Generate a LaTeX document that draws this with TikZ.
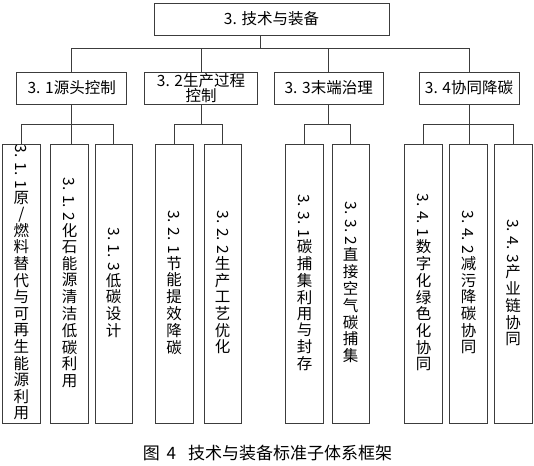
\documentclass[tikz,border=0pt]{standalone}
\usepackage{fontspec}
\setmainfont{Noto Sans CJK SC}
\usepackage{graphicx}
\usepackage{xcolor}
\definecolor{framegray}{RGB}{60, 60, 60}

\makeatletter
\newcommand\vchar[1]{\hbox to 16pt{\hss\vrule width0pt height12.4pt depth3.8pt\relax#1\hss}}
\newcommand\vtitle[2]{\vbox{\offinterlineskip\hbox to 16pt{\hss\rotatebox{-90}{#1}\hss}\kern2pt\vtitle@#2\relax}}
\def\vtitle@#1{\ifx\relax#1\else\vchar{#1}\expandafter\vtitle@\fi}
\makeatother

\begin{document}
\begin{tikzpicture}[x=1pt, y=1pt, font=\fontsize{15.5}{15.5}\selectfont]
    \tikzstyle{topbox} = [rectangle, minimum width=235pt, minimum height=32pt, text centered, draw=framegray, line width=0.8pt]
    \tikzstyle{secbox} = [rectangle, minimum height=32pt, inner sep=1pt, text centered, draw=framegray, line width=0.8pt]
    \tikzstyle{leaf} = [rectangle, minimum width=37.5pt, minimum height=279.3pt, inner sep=0pt, text centered, draw=framegray, line width=0.8pt]
    \tikzstyle{line} = [draw=framegray, line width=0.8pt]

    \path [use as bounding box, fill=white] (0,0) rectangle (534,-465);

    \node (top) [topbox] at (271.5,-19) {3. 技术与装备};

    \node (s1) [secbox, minimum width=110pt] at (71.7,-88) {3. 1源头控制};
    \node (s2) [secbox, minimum width=113pt, align=center] at (201,-88) {3. 2生产过程\\控制};
    \node (s3) [secbox, minimum width=109pt] at (328.7,-88) {3. 3末端治理};
    \node (s4) [secbox, minimum width=100pt] at (469,-88) {3. 4协同降碳};

    \node (l11) [leaf] at (21.3,-283.7) {\vtitle{3. 1. 1}{原/燃料替代与可再生能源利用}};
    \node (l12) [leaf] at (69.5,-283.7) {\vtitle{3. 1. 2}{化石能源清洁低碳利用}};
    \node (l13) [leaf] at (113.7,-283.7) {\vtitle{3. 1. 3}{低碳设计}};
    \node (l21) [leaf] at (174.2,-283.7) {\vtitle{3. 2. 1}{节能提效降碳}};
    \node (l22) [leaf] at (222.7,-283.7) {\vtitle{3. 2. 2}{生产工艺优化}};
    \node (l31) [leaf] at (304.5,-283.7) {\vtitle{3. 3. 1}{碳捕集利用与封存}};
    \node (l32) [leaf] at (350.7,-283.7) {\vtitle{3. 3. 2}{直接空气碳捕集}};
    \node (l41) [leaf] at (423.5,-283.7) {\vtitle{3. 4. 1}{数字化绿色化协同}};
    \node (l42) [leaf] at (468.5,-283.7) {\vtitle{3. 4. 2}{减污降碳协同}};
    \node (l43) [leaf] at (513.2,-283.7) {\vtitle{3. 4. 3}{产业链协同}};

    \node (cap) at (267.5,-453) {\fontsize{17}{17}\selectfont 图\hspace{0.4em}4\hspace{0.7em}技术与装备标准子体系框架};

    \coordinate (bus) at (260,-48.5);
    \draw [line] (top.south -| bus) -- (bus);
    \draw [line] (s1.north) |- (bus) -| (s4.north);
    \draw [line] (bus -| s2.north) -- (s2.north);
    \draw [line] (bus -| s3.north) -- (s3.north);

    \draw [line] (s1.south) -- ++(0,-20) coordinate (b1);
    \draw [line] (l11.north) |- (b1) -| (l13.north);
    \draw [line] (b1) -- (b1 |- l12.north);

    \draw [line] (s2.south) -- ++(0,-20) coordinate (b2);
    \draw [line] (l21.north) |- (b2) -| (l22.north);

    \draw [line] (s3.south) -- ++(0,-20) coordinate (b3);
    \draw [line] (l31.north) |- (b3) -| (l32.north);

    \draw [line] (s4.south) -- ++(0,-20) coordinate (b4);
    \draw [line] (l41.north) |- (b4) -| (l43.north);
    \draw [line] (b4) -- (b4 |- l42.north);
\end{tikzpicture}
\end{document}
